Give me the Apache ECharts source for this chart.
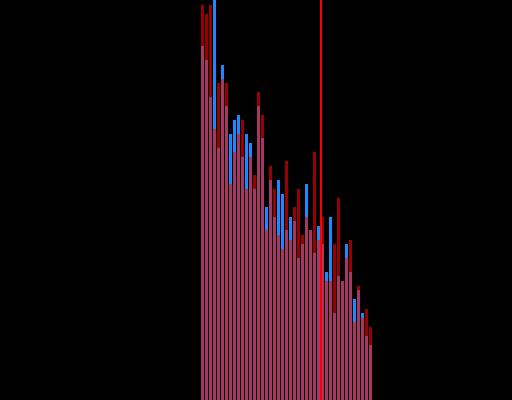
<!DOCTYPE html>
<html>
<head>
<meta charset="utf-8">
<script src="https://cdn.jsdelivr.net/npm/echarts@6/dist/echarts.min.js"></script>
<style>
html,body{margin:0;padding:0;background:#000;}
#chart{width:512px;height:400px;}
</style>
</head>
<body>
<div id="chart"></div>
<script>
var categories = [];
for (var i = 1; i <= 43; i++) { categories.push(String(i)); }
var redValues = [395,386,395,271,317,321,317,216,248,266,280,211,243,225,308,285,170,234,211,165,151,239,160,193,211,165,183,170,248,160,183,119,119,156,202,119,142,160,78,114,82,91,73];
var blueValues = [354,340,303,410,252,335,294,266,280,285,243,266,257,211,294,262,193,220,183,220,206,170,183,179,142,156,216,170,147,174,156,128,183,87,124,119,156,128,101,110,87,64,55];
var markPosition = 30.125;

var chart = echarts.init(document.getElementById('chart'), null, {renderer: 'canvas'});
chart.setOption({
  backgroundColor: '#000000',
  animation: false,
  grid: {left: 200.5, width: 172, top: 0, bottom: 0, containLabel: false},
  xAxis: [
    {type: 'category', data: categories, show: false, boundaryGap: true},
    {type: 'value', min: 0, max: categories.length, show: false}
  ],
  yAxis: {type: 'value', min: 0, max: 400, show: false},
  series: [
    {
      name: 'blue', type: 'bar', data: blueValues, barWidth: 3, barGap: '-100%',
      itemStyle: {color: '#1e88ff'}, silent: true
    },
    {
      name: 'red', type: 'bar', data: redValues, barWidth: 3, barGap: '-100%',
      itemStyle: {color: '#ff0000', opacity: 0.6}, silent: true
    },
    {
      name: 'marker', type: 'line', xAxisIndex: 1, data: [], silent: true,
      markLine: {
        silent: true, symbol: 'none', label: {show: false},
        lineStyle: {color: '#ff0000', width: 2, type: 'solid', opacity: 1},
        data: [{xAxis: markPosition}]
      }
    }
  ]
});
</script>
</body>
</html>
